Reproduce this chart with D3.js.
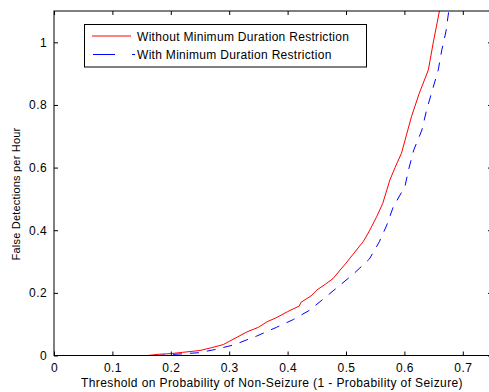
<!DOCTYPE html>
<html>
<head>
<meta charset="utf-8">
<script src="https://cdn.jsdelivr.net/npm/d3@7"></script>
<style>
  body { margin: 0; background: #fff; }
  text { font-family: "Liberation Sans", Arial, sans-serif; }
</style>
</head>
<body>
<svg id="chart" width="489" height="392"></svg>
<script>
// threshold (x) and false detections per hour (y)
var redX = [0, 0.16, 0.18, 0.2, 0.22, 0.25, 0.27, 0.29, 0.3, 0.315, 0.33, 0.35, 0.365, 0.38, 0.4,
  0.42, 0.423, 0.44, 0.45, 0.465, 0.478, 0.49, 0.5, 0.518, 0.53, 0.541, 0.553, 0.563, 0.575,
  0.584, 0.595, 0.612, 0.625, 0.641, 0.65, 0.66];
var redY = [0, 0, 0.004, 0.006, 0.01, 0.016, 0.025, 0.035, 0.045, 0.06, 0.075, 0.09, 0.108, 0.12, 0.14,
  0.158, 0.17, 0.19, 0.209, 0.228, 0.246, 0.273, 0.295, 0.337, 0.365, 0.401, 0.445, 0.486, 0.56,
  0.6, 0.646, 0.762, 0.835, 0.912, 1.005, 1.1];

var blueX = [0, 0.18, 0.2, 0.249, 0.278, 0.31, 0.33, 0.347, 0.381, 0.41, 0.438, 0.466, 0.49, 0.512,
  0.54, 0.557, 0.57, 0.581, 0.601, 0.607, 0.616, 0.63, 0.638, 0.648, 0.658, 0.664, 0.671, 0.676];
var blueY = [0, 0, 0.003, 0.009, 0.02, 0.035, 0.05, 0.062, 0.09, 0.115, 0.145, 0.188, 0.225, 0.259,
  0.308, 0.363, 0.417, 0.475, 0.54, 0.592, 0.656, 0.72, 0.784, 0.848, 0.912, 0.975, 1.033, 1.1];

var xTicks = [0, 0.1, 0.2, 0.3, 0.4, 0.5, 0.6, 0.7];
var yTicks = [0, 0.2, 0.4, 0.6, 0.8, 1];
var seriesNames = ["Without Minimum Duration Restriction", "With Minimum Duration Restriction"];

var svg = d3.select("#chart");
var pLeft = 54, pTop = 11, pRight = 492, pBottom = 355.5;

var x = d3.scaleLinear().domain([0, 0.75]).range([pLeft, pRight]);
var y = d3.scaleLinear().domain([0, 1.1]).range([pBottom, pTop]);

svg.append("defs").append("clipPath").attr("id", "clip")
  .append("rect").attr("x", pLeft).attr("y", pTop)
  .attr("width", pRight - pLeft).attr("height", pBottom - pTop);

function pts(xs, ys) { return xs.map(function (d, i) { return [d, ys[i]]; }); }
var line = d3.line().x(function (d) { return x(d[0]); }).y(function (d) { return y(d[1]); });

var g = svg.append("g").attr("clip-path", "url(#clip)");
g.append("path").datum(pts(redX, redY))
  .attr("d", line).attr("fill", "none").attr("stroke", "#ff0000").attr("stroke-width", 1);
g.append("path").datum(pts(blueX, blueY))
  .attr("d", line).attr("fill", "none").attr("stroke", "#0000ff").attr("stroke-width", 1)
  .attr("stroke-dasharray", "9,8");

// axes, MATLAB style: ticks inward, box on
var xAxisB = d3.axisBottom(x).tickValues(xTicks).tickSize(-4).tickPadding(8).tickFormat(d3.format("~g"));
var xAxisT = d3.axisTop(x).tickValues(xTicks).tickSize(-4).tickFormat("");
var yAxisL = d3.axisLeft(y).tickValues(yTicks).tickSize(-4).tickPadding(7).tickFormat(d3.format("~g"));
var yAxisR = d3.axisRight(y).tickValues(yTicks).tickSize(-4).tickFormat("");

var gb = svg.append("g").attr("transform", "translate(0," + pBottom + ")").call(xAxisB);
var gt = svg.append("g").attr("transform", "translate(0," + pTop + ")").call(xAxisT);
var gl = svg.append("g").attr("transform", "translate(" + pLeft + ",0)").call(yAxisL);
var gr = svg.append("g").attr("transform", "translate(" + pRight + ",0)").call(yAxisR);
[gb, gt, gl, gr].forEach(function (s) {
  s.select(".domain").remove();
  s.selectAll(".tick line").attr("stroke", "#000");
  s.selectAll(".tick text").attr("fill", "#000").style("font-size", "12px")
    .style("letter-spacing", "0.4px");
});
svg.append("rect").attr("x", pLeft).attr("y", pTop)
  .attr("width", pRight - pLeft).attr("height", pBottom - pTop)
  .attr("fill", "none").attr("stroke", "#000").attr("stroke-width", 1);

// axis labels
svg.append("text").attr("x", 272).attr("y", 387).attr("text-anchor", "middle")
  .style("font-size", "12px").style("letter-spacing", "0.4px")
  .text("Threshold on Probability of Non-Seizure (1 - Probability of Seizure)");
svg.append("text").attr("transform", "translate(20,194) rotate(-90)")
  .attr("text-anchor", "middle").style("font-size", "11px").style("letter-spacing", "0.2px")
  .text("False Detections per Hour");

// legend
var lg = svg.append("g");
lg.append("rect").attr("x", 84.5).attr("y", 24.5).attr("width", 282).attr("height", 42.5)
  .attr("fill", "#fff").attr("stroke", "#000");
lg.append("line").attr("x1", 92).attr("x2", 131).attr("y1", 36).attr("y2", 36)
  .attr("stroke", "#ff0000");
lg.append("line").attr("x1", 93).attr("x2", 135).attr("y1", 54.5).attr("y2", 54.5)
  .attr("stroke", "#0000ff").attr("stroke-dasharray", "22,17");
lg.selectAll("text.leg").data(seriesNames).enter().append("text")
  .attr("x", 137).attr("y", function (d, i) { return 40.5 + i * 18.5; })
  .style("font-size", "12px").style("letter-spacing", "0.3px").text(function (d) { return d; });
</script>
</body>
</html>
